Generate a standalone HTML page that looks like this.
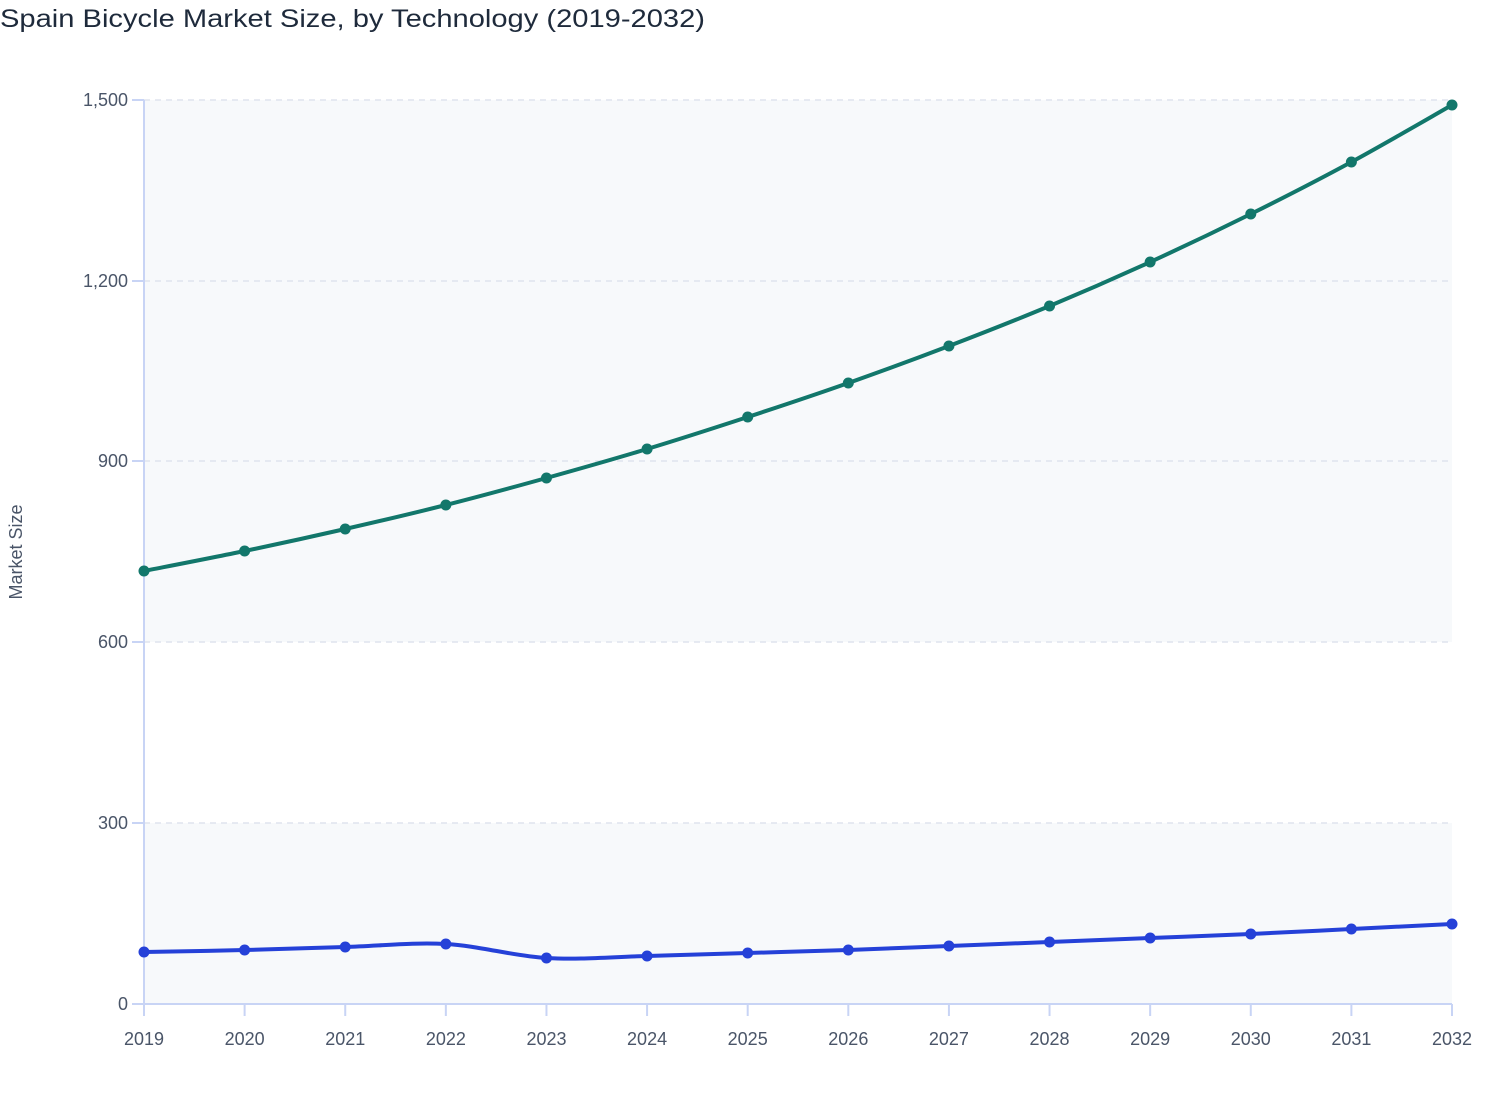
<!DOCTYPE html>
<html><head><meta charset="utf-8"><style>
html,body{margin:0;padding:0;background:#fff;}
svg{display:block;font-family:"Liberation Sans",sans-serif;}
</style></head><body>
<svg id="s" width="1508" height="1120" viewBox="0 0 1508 1120">
<text x="0" y="27" font-size="25" fill="#1e2a3b" textLength="705" lengthAdjust="spacingAndGlyphs">Spain Bicycle Market Size, by Technology (2019-2032)</text>
<rect x="144" y="100" width="1308" height="542" fill="#f7f9fb"/>
<rect x="144" y="823" width="1308" height="181" fill="#f7f9fb"/>
<g stroke="#dfe4ee" stroke-width="1.5" stroke-dasharray="6,5">
<line x1="144" x2="1452" y1="100" y2="100"/>
<line x1="144" x2="1452" y1="281" y2="281"/>
<line x1="144" x2="1452" y1="461" y2="461"/>
<line x1="144" x2="1452" y1="642" y2="642"/>
<line x1="144" x2="1452" y1="823" y2="823"/>
</g>
<g stroke="#c8d4f5" stroke-width="2">
<line x1="144" x2="144" y1="100" y2="1016"/>
<line x1="132" x2="1452" y1="1004" y2="1004"/>
<line x1="132" x2="144" y1="100" y2="100"/>
<line x1="132" x2="144" y1="281" y2="281"/>
<line x1="132" x2="144" y1="461" y2="461"/>
<line x1="132" x2="144" y1="642" y2="642"/>
<line x1="132" x2="144" y1="823" y2="823"/>
</g>
<g id="xt" stroke="#c8d4f5" stroke-width="2"></g>
<g font-size="18" fill="#4a5568" text-anchor="end">
<text x="128" y="106">1,500</text>
<text x="128" y="287">1,200</text>
<text x="128" y="467">900</text>
<text x="128" y="648">600</text>
<text x="128" y="829">300</text>
<text x="128" y="1010">0</text>
</g>
<g id="xl" font-size="18" fill="#4a5568" text-anchor="middle"></g>
<text transform="translate(22,552) rotate(-90)" font-size="18" fill="#4a5568" text-anchor="middle">Market Size</text>
<g id="series"></g>
</svg>
<script>
var ns="http://www.w3.org/2000/svg";
function el(t,a,p){var e=document.createElementNS(ns,t);for(var k in a)e.setAttribute(k,a[k]);p.appendChild(e);return e;}
var xs=[];for(var i=0;i<14;i++)xs.push(144+i*1308/13);
var xt=document.getElementById('xt'),xl=document.getElementById('xl');
xs.forEach(function(x,i){el('line',{x1:x,x2:x,y1:1004,y2:1016},xt);var t=el('text',{x:x,y:1045},xl);t.textContent=2019+i;});
var g=[571,551,529,505,478,449,417,383,346,306,262,214,162,105];
var b=[952,950,947,944,958,956,953,950,946,942,938,934,929,924];
function path(ys){var d='M'+xs[0]+','+ys[0];for(var i=0;i<13;i++){var p0=i?i-1:i,p3=i+2<14?i+2:i+1;
var c1x=xs[i]+(xs[i+1]-xs[p0])/6,c1y=ys[i]+(ys[i+1]-ys[p0])/6,c2x=xs[i+1]-(xs[p3]-xs[i])/6,c2y=ys[i+1]-(ys[p3]-ys[i])/6;
d+=' C'+c1x+','+c1y+' '+c2x+','+c2y+' '+xs[i+1]+','+ys[i+1];}return d;}
var s=document.getElementById('series');
[[g,'#12776b'],[b,'#2541d8']].forEach(function(a){el('path',{d:path(a[0]),fill:'none',stroke:a[1],'stroke-width':4,'stroke-linecap':'round'},s);
a[0].forEach(function(y,i){el('circle',{cx:xs[i],cy:y,r:5.5,fill:a[1]},s);});});
</script>
</body></html>
